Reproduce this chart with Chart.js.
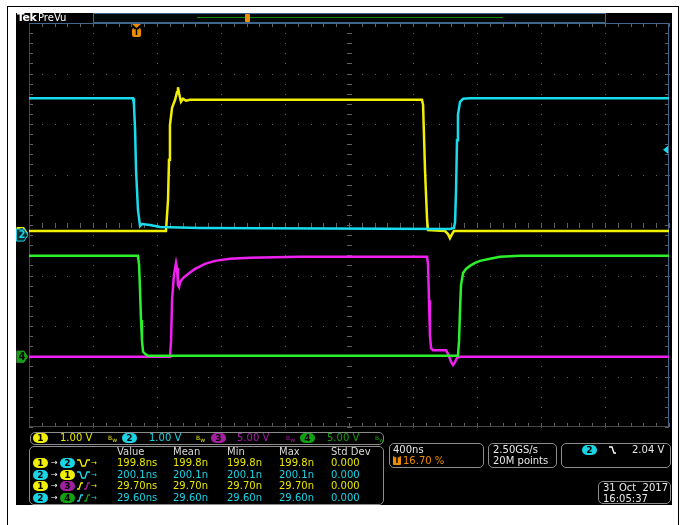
<!DOCTYPE html>
<html>
<head>
<meta charset="utf-8">
<script src="https://cdn.jsdelivr.net/npm/chart.js@4"></script>
<style>
html,body{margin:0;padding:0;background:#fff;width:681px;height:525px;overflow:hidden;font-family:"DejaVu Sans",sans-serif;}
.a{position:absolute;white-space:pre;}
.a svg{display:block;}
#screen{position:absolute;left:16px;top:13px;width:656px;height:492px;background:#000;}
#c{position:absolute;left:0;top:0;}
.t{font-size:10px;line-height:12px;}
.pill{position:absolute;height:10px;width:15px;border-radius:5px;font-size:9px;font-weight:bold;line-height:10px;text-align:center;color:#000;}
.box{position:absolute;border:1px solid #8c8c8c;border-radius:5px;box-sizing:border-box;}
</style>
</head>
<body>
<div class="a" style="left:7px;top:6px;width:1px;height:519px;background:#000"></div>
<div class="a" style="left:7px;top:6px;width:672px;height:1px;background:#000"></div>
<div class="a" style="left:678px;top:6px;width:1px;height:519px;background:#000"></div>
<div id="screen"></div>
<canvas id="c" width="681" height="525"></canvas>
<script>
// ---- data (time in ns, level in divisions) ----
const divTime = 400;           // ns per division
const triggerPct = 16.70;      // trigger position, % of record
const triggerLevelDiv = 1.49;  // ch2 trigger level marker (div)
const groundDiv = {ch1: -0.16, ch2: -0.2, ch3: -2.61, ch4: -2.61};

const ch1Time  = [0,856,869,875,881,894,913,925,931,938,950,963,981,1006,2456,2463,2475,2488,2494,2600,2619,2631,2644,2656,4000];
const ch1Level = [-0.12,-0.12,0.50,1.29,1.98,2.32,2.48,2.63,2.73,2.61,2.44,2.50,2.46,2.48,2.48,2.38,1.09,0.10,-0.10,-0.12,-0.18,-0.26,-0.18,-0.12,-0.12];

const ch2Time  = [0,650,656,663,669,681,694,706,756,819,1069,2631,2656,2663,2669,2675,2681,2694,2713,2756,4000];
const ch2Level = [2.51,2.51,2.38,1.88,1.09,0.30,-0.02,0.02,0,-0.04,-0.06,-0.08,-0.06,0.06,0.69,1.68,2.18,2.44,2.50,2.51,2.51];

const ch3Time  = [0,881,888,894,906,919,925,931,938,944,963,994,1038,1100,1163,1256,1381,1694,2488,2494,2500,2506,2513,2525,2606,2619,2638,2650,2663,2675,2694,4000];
const ch3Level = [-2.61,-2.61,-2.28,-1.49,-0.99,-0.75,-0.85,-1.19,-1.23,-1.13,-1.05,-0.97,-0.87,-0.77,-0.71,-0.67,-0.65,-0.63,-0.63,-0.79,-1.49,-2.18,-2.44,-2.48,-2.48,-2.55,-2.71,-2.77,-2.71,-2.63,-2.61,-2.61];

const ch4Time  = [0,681,688,694,700,706,713,725,744,2681,2688,2694,2700,2713,2731,2756,2788,2819,2881,2944,3069,4000];
const ch4Level = [-0.61,-0.61,-0.79,-1.29,-1.88,-2.28,-2.51,-2.55,-2.59,-2.59,-2.28,-1.68,-1.19,-0.95,-0.87,-0.81,-0.75,-0.71,-0.67,-0.63,-0.61,-0.61];

const chScale = ["1.00 V","1.00 V","5.00 V","5.00 V"];
const measHeaders = ["Value","Mean","Min","Max","Std Dev"];
const measFrom = [1,2,1,2];
const measTo   = [2,1,3,4];
const measKind = ["fr","fr","rr","rr"];
const measValues = [
  ["199.8ns","199.8n","199.8n","199.8n","0.000"],
  ["200.1ns","200.1n","200.1n","200.1n","0.000"],
  ["29.70ns","29.70n","29.70n","29.70n","0.000"],
  ["29.60ns","29.60n","29.60n","29.60n","0.000"]
];
const timebaseText = "400ns";
const sampleText = ["2.50GS/s","20M points"];
const trigText = "2.04 V";
const dateText = ["31 Oct  2017","16:05:37"];

// ---- colours ----
const COL = {1:'#f0f000', 2:'#18dcec', 3:'#f020f0', 4:'#2cf02c'};
const PILL = {1:'#f0f000', 2:'#18d4e4', 3:'#a020a0', 4:'#10a010'};
const TXT = {1:'#e8e800', 2:'#18d4e4', 3:'#a81ca8', 4:'#10a010'};

const pts = (t,l) => t.map((v,i)=>({x:v,y:l[i]}));

const graticule = {
  id:'graticule',
  beforeDatasetsDraw(chart){
    const {ctx, chartArea:a, scales:{x,y}} = chart;
    ctx.save();
    ctx.fillStyle = '#606060';
    for(let i=1;i<10;i++){
      const px = Math.round(x.getPixelForValue(i*divTime));
      for(let j=0;j<=40;j++){ ctx.fillRect(px, Math.round(y.getPixelForValue(-4+j*0.2)), 1, 1); }
    }
    for(let j=1;j<8;j++){
      const py = Math.round(y.getPixelForValue(-4+j));
      for(let k=0;k<=50;k++){ ctx.fillRect(Math.round(x.getPixelForValue(k*divTime/5)), py, 1, 1); }
    }
    const cx = Math.round(x.getPixelForValue(5*divTime)), cy = Math.round(y.getPixelForValue(0));
    for(let j=0;j<=40;j++){ const py=Math.round(y.getPixelForValue(-4+j*0.2)); ctx.fillRect(cx-2,py,5,1); ctx.fillRect(a.left,py,4,1); ctx.fillRect(a.right-4,py,4,1); }
    for(let k=0;k<=50;k++){ const px=Math.round(x.getPixelForValue(k*divTime/5)); ctx.fillRect(px,cy-2,1,5); ctx.fillRect(px,a.top,1,4); ctx.fillRect(px,a.bottom-4,1,4); }
    ctx.strokeStyle = '#474747'; ctx.lineWidth = 1;
    ctx.beginPath(); ctx.moveTo(a.left+0.5,a.top); ctx.lineTo(a.left+0.5,a.bottom-0.5); ctx.lineTo(a.right,a.bottom-0.5); ctx.stroke();
    ctx.strokeStyle = '#41678c';
    ctx.beginPath(); ctx.moveTo(a.left,a.top+0.5); ctx.lineTo(a.right-0.5,a.top+0.5); ctx.lineTo(a.right-0.5,a.bottom); ctx.stroke();
    ctx.restore();
  },
  afterDatasetsDraw(chart){
    const {ctx, chartArea:a, scales:{x,y}} = chart;
    ctx.save();
    const tx = Math.round(x.getPixelForValue(triggerPct/100*10*divTime));
    ctx.fillStyle = '#ee8c00';
    ctx.beginPath(); ctx.moveTo(tx-4,a.top+1); ctx.lineTo(tx+5,a.top+1); ctx.lineTo(tx+0.5,a.top+5); ctx.closePath(); ctx.fill();
    ctx.beginPath(); ctx.roundRect(tx-4,a.top+5,9,9,2); ctx.fill();
    ctx.fillStyle = '#000'; ctx.font = 'bold 8px "DejaVu Sans"'; ctx.textAlign='center'; ctx.textBaseline='middle';
    ctx.fillText('T', tx+0.5, a.top+10);
    const ty = y.getPixelForValue(triggerLevelDiv);
    ctx.fillStyle = COL[2];
    ctx.beginPath(); ctx.moveTo(a.right-6,ty); ctx.lineTo(a.right-1,ty-4); ctx.lineTo(a.right-1,ty+4); ctx.closePath(); ctx.fill();
    const marker = (ch, filled) => {
      const my = y.getPixelForValue(groundDiv['ch'+ch]);
      const l = 16.5, r = 28;
      ctx.beginPath(); ctx.moveTo(l,my-6); ctx.lineTo(r-4,my-6); ctx.lineTo(r,my); ctx.lineTo(r-4,my+6); ctx.lineTo(l,my+6); ctx.closePath();
      if(filled){ ctx.fillStyle = PILL[ch]; ctx.fill(); ctx.fillStyle = '#000'; }
      else { ctx.fillStyle = '#0a2a30'; ctx.fill(); ctx.strokeStyle = PILL[ch]; ctx.lineWidth=1; ctx.stroke(); ctx.fillStyle = PILL[ch]; }
      ctx.font = 'bold 10px "DejaVu Sans"'; ctx.textAlign='center'; ctx.textBaseline='middle';
      ctx.fillText(String(ch), 22, my+0.5);
    };
    marker(1,true); marker(3,true); marker(2,false); marker(4,true);
    ctx.restore();
  }
};

new Chart(document.getElementById('c'), {
  type:'line',
  data:{ datasets:[
    {label:'CH1', data:pts(ch1Time,ch1Level), borderColor:COL[1], order:4},
    {label:'CH2', data:pts(ch2Time,ch2Level), borderColor:COL[2], order:3},
    {label:'CH3', data:pts(ch3Time,ch3Level), borderColor:COL[3], order:2},
    {label:'CH4', data:pts(ch4Time,ch4Level), borderColor:COL[4], order:1}
  ]},
  options:{
    responsive:false, animation:false, events:[],
    layout:{padding:{left:29,top:23,right:12,bottom:98}},
    elements:{point:{radius:0}, line:{tension:0, borderWidth:2.5}},
    plugins:{legend:{display:false}, tooltip:{enabled:false}},
    scales:{
      x:{type:'linear', min:0, max:10*divTime, display:false},
      y:{type:'linear', min:-4, max:4, display:false}
    }
  },
  plugins:[graticule]
});

function add(html, style, cls){ const d=document.createElement('div'); d.className=cls||'a'; d.style.cssText=style; d.innerHTML=html; document.body.appendChild(d); return d; }
function pill(ch, x, yc){ add(String(ch), `left:${x}px;top:${yc-5}px;background:${PILL[ch]};`, 'pill'); }
function txt(s, x, yc, color, extra){ add(s, `left:${x}px;top:${yc-6}px;color:${color};${extra||''}`, 'a t'); }
function svg(x, y, w, h, inner){ add(`<svg width="${w}" height="${h}" xmlns="http://www.w3.org/2000/svg">${inner}</svg>`, `left:${x}px;top:${y}px;width:${w}px;height:${h}px;line-height:0;`); }

txt('<b style="font-size:11px;letter-spacing:-0.5px">Tek</b>', 17, 18, '#fff');
txt('PreVu', 38, 18, '#fff');
add('', 'left:93px;top:13px;width:513px;height:10px;border:1px solid #41678c;box-sizing:border-box;background:#030808;');
add('', 'left:197px;top:17px;width:306px;height:1px;background:#0c8a0c;');
add('', 'left:245px;top:14px;width:5px;height:8px;background:#ee8c00;border-radius:1px;');

add('', 'left:30px;top:432px;width:354px;height:13px;', 'box');
const stripX = [33,122,211,300], stripTxtX=[60,149,237,327], bwX=[108,196,286,375];
for(let i=0;i<4;i++){
  const ch=i+1;
  pill(ch, stripX[i], 438);
  txt(chScale[i], stripTxtX[i], 438, TXT[ch]);
  txt('<span style="font-size:6px">B</span><span style="font-size:6px;position:relative;top:2px">w</span>', bwX[i], 438, TXT[ch===2?1:ch], 'font-size:7px;');
}

add('', 'left:29px;top:446px;width:355px;height:59px;', 'box');
const colX = [117,173,227,279,331];
const rowY = [463,474.5,486,497.5];
measHeaders.forEach((h,i)=>txt(h, colX[i], 452, '#d8d8d8'));
for(let r=0;r<4;r++){
  const f=measFrom[r], t=measTo[r], yc=rowY[r];
  pill(f, 33, yc);
  txt('→', 51, yc, '#fff', 'font-size:8px;');
  pill(t, 60, yc);
  const c = COL[f];
  const path = measKind[r]==='fr'
    ? `<polyline points="0,2 3,2 5,8 8,8 10,2 13,2" fill="none" stroke="${c}" stroke-width="1.3"/>`
    : `<polyline points="0,8 2,8 4,2 6,2" fill="none" stroke="${c}" stroke-width="1.3"/><polyline points="7,8 9,8 11,2 13,2" fill="none" stroke="${PILL[t]}" stroke-width="1.3"/>`;
  svg(77, yc-5, 14, 10, path);
  txt('→', 91, yc, c, 'font-size:7px;');
  measValues[r].forEach((v,i)=>txt(v, colX[i], yc, TXT[f]));
}

add('', 'left:389px;top:443px;width:95px;height:25px;', 'box');
txt(timebaseText, 393, 450, '#e8e8e8');
add('T', 'left:393px;top:456px;width:8px;height:9px;background:#ee8c00;color:#000;font-size:8px;font-weight:bold;line-height:9px;text-align:center;border-radius:1px;');
txt(triggerPct.toFixed(2)+' %', 403, 461, '#ee8c00');

add('', 'left:488px;top:443px;width:69px;height:25px;', 'box');
txt(sampleText[0], 493, 450, '#e8e8e8');
txt(sampleText[1], 493, 461, '#e8e8e8');

add('', 'left:561px;top:443px;width:110px;height:25px;', 'box');
pill(2, 582, 450);
svg(608, 445, 10, 10, '<polyline points="1,2 4,2 6,8 8,8" fill="none" stroke="#fff" stroke-width="1.3"/>');
txt(trigText, 632, 450, '#e8e8e8');

add('', 'left:598px;top:481px;width:73px;height:23px;', 'box');
txt(dateText[0], 603, 487.5, '#e8e8e8');
txt(dateText[1], 603, 498.5, '#e8e8e8');
</script>
</body>
</html>
